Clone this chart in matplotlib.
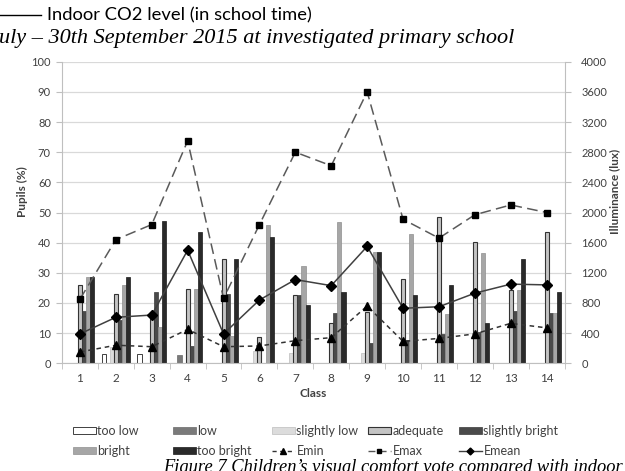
import matplotlib
matplotlib.use("Agg")
import matplotlib.pyplot as plt
import numpy as np
from matplotlib.patches import Patch
from matplotlib.lines import Line2D

# Class numbers
classes = list(range(1, 15))

# Visual comfort votes, share of pupils (%) per class
too_low = [0, 3.1, 3.1, 0, 0, 0, 0, 0, 0, 0, 0, 0, 0, 0]
low = [0, 0, 0, 2.7, 0, 0, 0, 0, 0, 0, 0, 0, 0, 0]
slightly_low = [0, 5.5, 0, 0, 0, 4.2, 3.3, 0, 3.3, 0, 0, 0, 0, 0]
adequate = [26.0, 23.1, 15.4, 24.5, 34.5, 8.6, 22.7, 13.5, 16.9, 27.8, 48.6, 40.2, 24.3, 43.5]
slightly_bright = [17.2, 14.4, 23.6, 5.7, 23.0, 0, 22.7, 16.8, 6.8, 7.7, 9.7, 10.4, 17.4, 16.8]
bright = [28.5, 25.9, 12.1, 24.5, 9.0, 45.9, 32.3, 46.8, 36.9, 42.9, 16.3, 36.7, 24.3, 16.8]
too_bright = [28.5, 28.5, 47.3, 43.5, 34.5, 42.0, 19.4, 23.6, 36.9, 22.7, 26.1, 13.5, 34.7, 23.6]

# Measured illuminance (lux)
e_min = [150, 240, 220, 450, 220, 230, 300, 340, 760, 290, 330, 390, 530, 470]
e_max = [850, 1640, 1840, 2950, 860, 1840, 2800, 2620, 3600, 1910, 1660, 1970, 2100, 2000]
e_mean = [390, 610, 640, 1500, 390, 840, 1110, 1030, 1550, 730, 750, 930, 1050, 1040]

vote_labels = ["too low", "low", "slightly low", "adequate",
               "slightly bright", "bright", "too bright"]

plt.rcParams["font.family"] = ["Lato", "DejaVu Sans"]

W, H = 625, 471
fig = plt.figure(figsize=(W / 100, H / 100), dpi=100)

left, right, top, bottom = 62, 564.6, 61.7, 363.3
ax = fig.add_axes([left / W, 1 - bottom / H, (right - left) / W, (bottom - top) / H])

bar_styles = [
    dict(facecolor="white", edgecolor="#404040", linewidth=0.7),
    dict(facecolor="#7a7a7a", edgecolor="#6a6a6a", linewidth=0.5),
    dict(facecolor="#dcdcdc", edgecolor="#bdbdbd", linewidth=0.5),
    dict(facecolor="#c4c4c4", edgecolor="#333333", linewidth=0.8),
    dict(facecolor="#4a4a4a", edgecolor="#3a3a3a", linewidth=0.5),
    dict(facecolor="#a6a6a6", edgecolor="#8f8f8f", linewidth=0.5),
    dict(facecolor="#2a2a2a", edgecolor="#1a1a1a", linewidth=0.5),
]
series = [too_low, low, slightly_low, adequate, slightly_bright, bright, too_bright]

x = np.array(classes, dtype=float)
w = 0.114
for i, (vals, style) in enumerate(zip(series, bar_styles)):
    ax.bar(x + (i - 3) * w, vals, width=w, zorder=2, **style)

ax.set_xlim(0.5, 14.5)
ax.set_ylim(0, 100)
ax.set_yticks(np.arange(0, 101, 10))
ax.set_xticks(x)
ax.set_xticklabels([str(c) for c in classes])
ax.set_xticks(np.arange(0.5, 15, 1), minor=True)
ax.grid(axis="y", color="#d9d9d9", linewidth=0.9)
ax.set_axisbelow(True)

grey = "#bfbfbf"
for s in ["left", "bottom"]:
    ax.spines[s].set_color(grey)
ax.spines["top"].set_visible(False)
ax.spines["right"].set_visible(False)
ax.tick_params(axis="x", which="major", length=0, labelsize=8.5, pad=7, labelcolor="#404040")
ax.tick_params(axis="x", which="minor", length=4, color=grey)
ax.tick_params(axis="y", length=4, color=grey, labelsize=8, labelcolor="#404040", pad=4)

ax.set_xlabel("Class", fontsize=8.5, fontweight="bold", color="#404040", labelpad=3)
ax.set_ylabel("Pupils (%)", fontsize=8.5, fontweight="bold", color="#404040")
ax.yaxis.set_label_coords(-0.068, 0.57)

ax2 = ax.twinx()
ax2.set_ylim(0, 4000)
ax2.set_yticks(np.arange(0, 4001, 400))
for s in ["left", "top", "bottom"]:
    ax2.spines[s].set_visible(False)
ax2.spines["right"].set_color(grey)
ax2.tick_params(axis="y", length=4, color=grey, labelsize=8, labelcolor="#404040", pad=8)
ax2.set_ylabel("Illuminance (lux)", fontsize=8.5, fontweight="bold", color="#404040")
ax2.yaxis.set_label_coords(1.088, 0.57)

ax2.plot(x, e_max, color="#5a5a5a", linewidth=1.1, linestyle=(0, (7, 3.5)),
         marker="s", markersize=4.5, markerfacecolor="black", markeredgecolor="black")
ax2.plot(x, e_mean, color="#404040", linewidth=1.1, linestyle="-",
         marker="D", markersize=5, markerfacecolor="black", markeredgecolor="black")
ax2.plot(x, e_min, color="#333333", linewidth=1.1, linestyle=(0, (3, 2.5)),
         marker="^", markersize=6, markerfacecolor="black", markeredgecolor="black")

# Legend: five columns of two entries each
handles = [Patch(**st) for st in bar_styles]
h_min = Line2D([], [], color="#333333", linewidth=1, linestyle=(0, (3, 2.5)),
               marker="^", markersize=4, markerfacecolor="black", markeredgecolor="black")
h_max = Line2D([], [], color="#555555", linewidth=1, linestyle=(0, (5, 3)),
               marker="s", markersize=3.5, markerfacecolor="black", markeredgecolor="black")
h_mean = Line2D([], [], color="#404040", linewidth=1, linestyle="-",
                marker="D", markersize=3.5, markerfacecolor="black", markeredgecolor="black")
columns = [
    ([handles[0], handles[5]], ["too low", "bright"]),
    ([handles[1], handles[6]], ["low", "too bright"]),
    ([handles[2], h_min], ["slightly low", "Emin"]),
    ([handles[3], h_max], ["adequate", "Emax"]),
    ([handles[4], h_mean], ["slightly bright", "Emean"]),
]
col_x = [73, 173, 272, 368, 459]
for cx, (hs, ls) in zip(col_x, columns):
    fig.legend(hs, ls, loc="upper left", bbox_to_anchor=(cx / W, 1 - 425 / H),
               frameon=False, fontsize=9, borderpad=0, borderaxespad=0,
               handlelength=1.8, handleheight=0.55, handletextpad=0.15,
               labelspacing=0.65, labelcolor="#404040")

# Surrounding text lines
fig.add_artist(Line2D([0, 41 / W], [1 - 15 / H, 1 - 15 / H], color="black",
                      linewidth=1, transform=fig.transFigure))
fig.text(47 / W, 1 - 15 / H, "Indoor CO2 level (in school time)", fontsize=13.2,
         va="center", ha="left", color="black")
fig.text(-1 / W, 1 - 39 / H, "uly – 30th September 2015 at investigated primary school",
         family=["Liberation Serif"], style="italic", fontsize=16, va="center", ha="left")
fig.text(163 / W, 1 - 458 / H, "Figure 7 Children’s visual comfort vote compared with indoor",
         family=["Liberation Serif"], style="italic", fontsize=13.3, va="top", ha="left")

fig.savefig("out.png", dpi=100)
